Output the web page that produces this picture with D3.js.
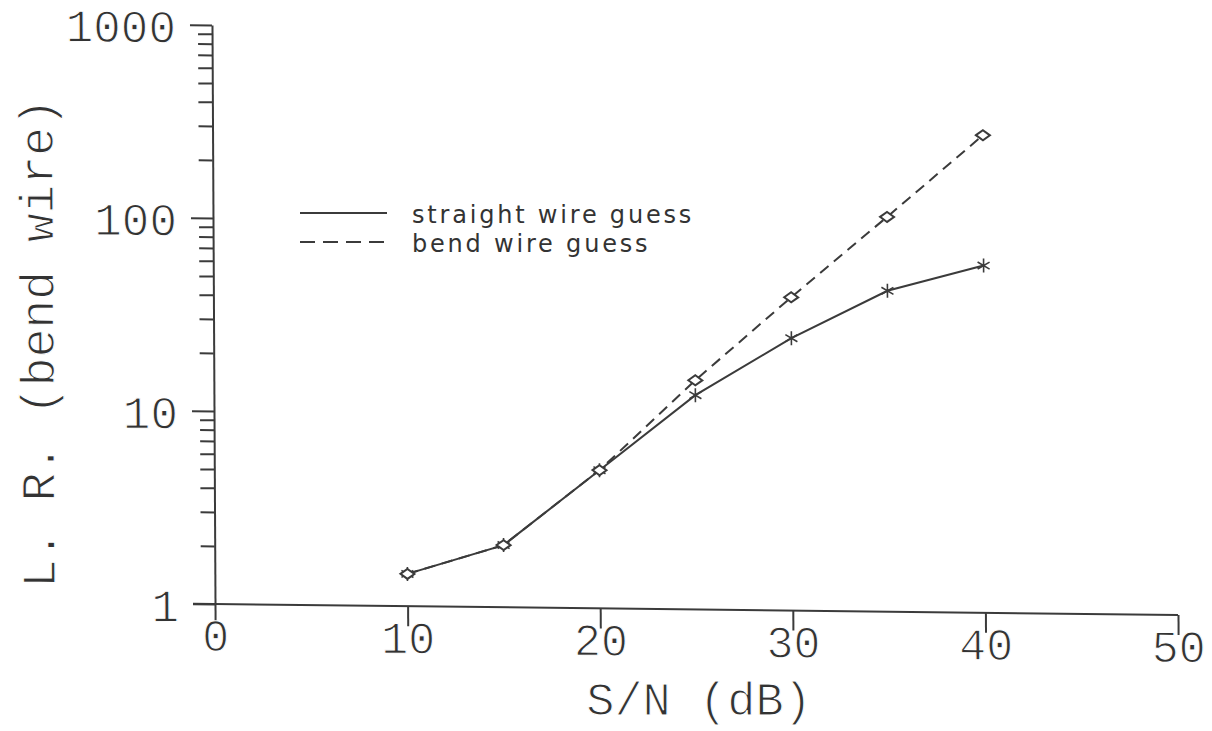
<!DOCTYPE html>
<html>
<head>
<meta charset="utf-8">
<script src="https://cdn.jsdelivr.net/npm/d3@7"></script>
<style>
  body { margin: 0; background: #fff; }
  svg { display: block; }
  .mono { font-family: "Liberation Mono", monospace; fill: #333; stroke: #fff; stroke-width: 1.1px; }
</style>
</head>
<body>
<div id="chart"></div>
<script>
// S/N values (dB) shared by both curves
const snr = [10, 15, 20, 25, 30, 35, 40]
// likelihood ratio, straight wire guess
const straightLR = [1.47, 2.1, 5.2, 12.9, 25.8, 46, 63]
// likelihood ratio, bend wire guess
const bendLR = [1.47, 2.1, 5.2, 15.4, 42, 111, 298]

const xTicks = [0, 10, 20, 30, 40, 50]
const yTicks = [1, 10, 100, 1000]
const legendLabels = ['straight wire guess', 'bend wire guess']

const width = 1212, height = 731
const ink = '#3b3b3b'

const svg = d3.select('#chart').append('svg')
    .attr('width', width)
    .attr('height', height)

const x = d3.scaleLinear().domain([0, 50]).range([215, 1178])
const y = d3.scaleLog().domain([1, 1000]).range([604, 25])

// the scanned page is a little skewed, keep the origin fixed
const b = 0.0114, c = 0.0052
const g = svg.append('g')
    .attr('transform', `matrix(1,${b},${c},1,${-c * 604},${-b * 215})`)

// x axis
const xAxis = d3.axisBottom(x).tickValues(xTicks).tickSize(20).tickSizeOuter(0)
    .tickFormat(d3.format('d'))
const gx = g.append('g').attr('transform', `translate(0,${y(1)})`).call(xAxis)
gx.select('.domain').attr('d', `M${x(0) - 22},0H${x(50)}`)
gx.selectAll('line').attr('stroke', ink).attr('stroke-width', 2)
gx.select('.domain').attr('stroke', ink).attr('stroke-width', 2)
gx.selectAll('text')
    .attr('class', 'mono')
    .attr('y', 47)
    .attr('dy', 0)
    .style('font-size', '45px')

// y axis, majors then minors
const minors = []
for (let dec = 1; dec < 1000; dec *= 10) {
    for (let k = 2; k <= 9; k++) minors.push(dec * k)
}
const gy = g.append('g').attr('transform', `translate(${x(0)},0)`)
gy.call(d3.axisLeft(y).tickValues(yTicks).tickSize(22).tickSizeOuter(0)
    .tickFormat(d3.format('d')))
gy.append('g').call(d3.axisLeft(y).tickValues(minors).tickSize(14).tickSizeOuter(0)
    .tickFormat(''))
    .select('.domain').remove()
gy.selectAll('line').attr('stroke', ink).attr('stroke-width', 2)
gy.select('.domain').attr('stroke', ink).attr('stroke-width', 2)
gy.selectAll('text')
    .attr('class', 'mono')
    .attr('x', -36)
    .attr('dy', '0.38em')
    .style('font-size', '46px')

// axis titles
svg.append('text')
    .attr('class', 'mono')
    .attr('x', 699)
    .attr('y', 715)
    .attr('text-anchor', 'middle')
    .style('font-size', '47px')
    .text('S/N (dB)')

g.append('text')
    .attr('class', 'mono')
    .attr('transform', 'translate(55,345) rotate(-90)')
    .attr('text-anchor', 'middle')
    .style('font-size', '48px')
    .text('L. R. (bend wire)')

// curves
const line = (vals) => d3.line()
    .x((d, i) => x(snr[i]))
    .y(d => y(d))(vals)

g.append('path')
    .attr('d', line(straightLR))
    .attr('fill', 'none')
    .attr('stroke', ink)
    .attr('stroke-width', 2)

g.append('path')
    .attr('d', line(bendLR))
    .attr('fill', 'none')
    .attr('stroke', ink)
    .attr('stroke-width', 2)
    .attr('stroke-dasharray', '11,7')

// asterisks for the straight wire guess
const star = 'M0,-7V7M-6,-3.5L6,3.5M-6,3.5L6,-3.5'
g.append('g').selectAll('path')
    .data(straightLR)
    .enter().append('path')
    .attr('transform', (d, i) => `translate(${x(snr[i])},${y(d)})`)
    .attr('d', star)
    .attr('stroke', ink)
    .attr('stroke-width', 1.6)

// diamonds for the bend wire guess
const diamond = 'M-7,0L0,-5L7,0L0,5Z'
g.append('g').selectAll('path')
    .data(bendLR)
    .enter().append('path')
    .attr('transform', (d, i) => `translate(${x(snr[i])},${y(d)})`)
    .attr('d', diamond)
    .attr('fill', '#fff')
    .attr('stroke', ink)
    .attr('stroke-width', 2)

// legend
const legend = svg.append('g').selectAll('g')
    .data(legendLabels)
    .enter().append('g')
    .attr('transform', (d, i) => `translate(300,${213 + i * 29})`)

legend.append('line')
    .attr('x1', 0).attr('x2', 87)
    .attr('stroke', ink)
    .attr('stroke-width', 2)
    .attr('stroke-dasharray', (d, i) => i ? '15,8' : null)

legend.append('text')
    .attr('x', 112)
    .attr('y', 10)
    .attr('fill', '#333')
    .style('font-family', '"DejaVu Sans", sans-serif')
    .style('font-size', '24px')
    .style('letter-spacing', '2.8px')
    .text(d => d)
</script>
</body>
</html>
